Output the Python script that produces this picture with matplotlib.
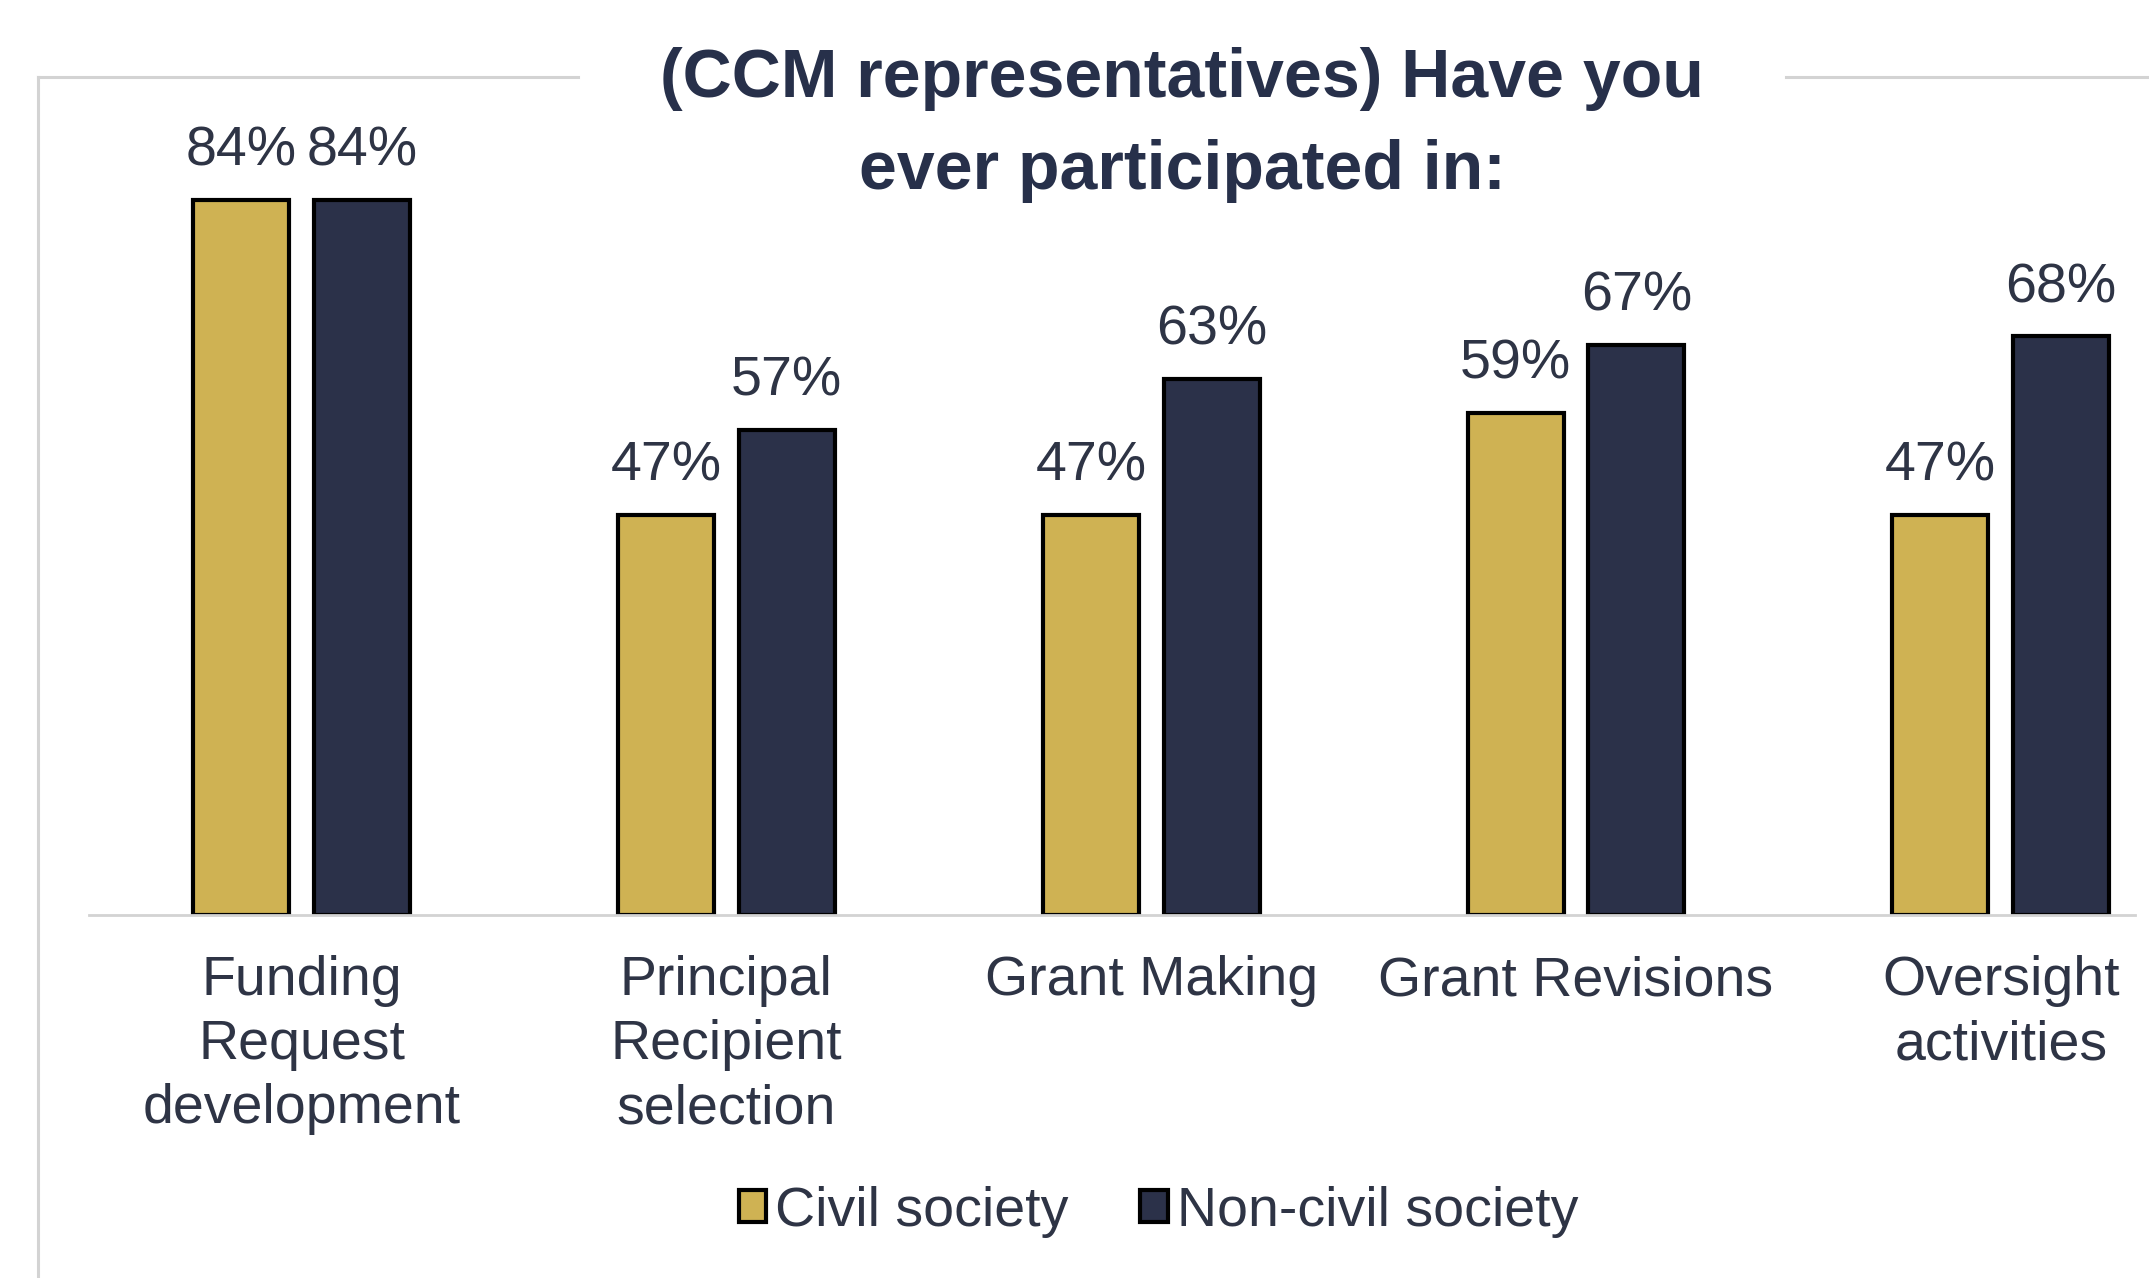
import matplotlib.pyplot as plt
from matplotlib.lines import Line2D
import numpy as np

plt.rcParams['font.family'] = ['Liberation Sans', 'DejaVu Sans']

categories = ["Funding\nRequest\ndevelopment", "Principal\nRecipient\nselection",
              "Grant Making", "Grant Revisions", "Oversight\nactivities"]
civil = [84, 47, 47, 59, 47]
non_civil = [84, 57, 63, 67, 68]
series_names = ["Civil society", "Non-civil society"]

gold = "#CFB253"
navy = "#2B3149"
text_col = "#2E3445"
grey = "#D3D3D3"

fig = plt.figure(figsize=(21.49, 12.78), dpi=100)
ax = fig.add_axes([0.0415, 0.284, 0.952, 0.666])

x = np.arange(len(categories))
w = 0.226
off = 0.142
b1 = ax.bar(x - off, civil, w, color=gold, edgecolor="black", linewidth=3, label=series_names[0])
b2 = ax.bar(x + off, non_civil, w, color=navy, edgecolor="black", linewidth=3, label=series_names[1])

for bars, vals in [(b1, civil), (b2, non_civil)]:
    ax.bar_label(bars, labels=[f"{v}%" for v in vals], padding=16,
                 fontsize=40, color=text_col)

ax.set_xlim(-0.5, 4.316)
ax.set_ylim(0, 100)
ax.set_xticks(x)
ax.set_xticklabels(categories, fontsize=40, color=text_col, linespacing=1.3)
ax.tick_params(axis="x", length=0, pad=29)
ax.set_yticks([])
for s in ["top", "right", "left"]:
    ax.spines[s].set_visible(False)
ax.spines["bottom"].set_color(grey)
ax.spines["bottom"].set_linewidth(2)

fig.text(0.55, 0.963, "(CCM representatives) Have you\never participated in:",
         ha="center", va="top", fontsize=49, fontweight="bold", color="#27304A",
         linespacing=1.55)

# frame lines around the chart
fig.add_artist(Line2D([0.0178, 0.0178], [0, 0.94], color=grey, linewidth=2.2))
fig.add_artist(Line2D([0.0178, 0.269], [0.94, 0.94], color=grey, linewidth=2.2))
fig.add_artist(Line2D([0.831, 1.0], [0.94, 0.94], color=grey, linewidth=2.2))

fig.legend(handles=[b1, b2], labels=series_names, loc="center",
           bbox_to_anchor=(0.539, 0.052), ncol=2, frameon=False,
           fontsize=40, labelcolor=text_col, handlelength=0.5, handleheight=0.5,
           handletextpad=0.15, columnspacing=1.3)

fig.savefig("out.png", dpi=100, facecolor="white")
